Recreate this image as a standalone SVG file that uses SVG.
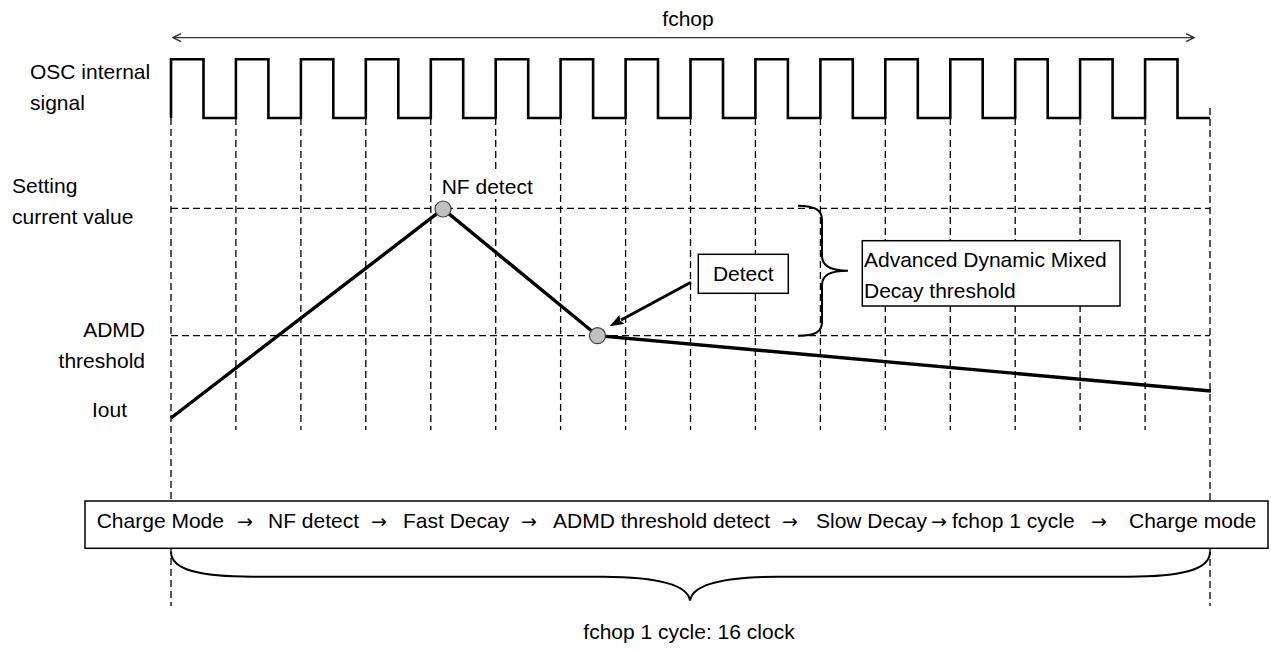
<svg xmlns="http://www.w3.org/2000/svg" width="1271" height="649" viewBox="0 0 1271 649">
<style>
.t{font-family:"Liberation Sans",Arial,sans-serif;font-size:21px;fill:#000}
.ar{font-family:"DejaVu Sans",sans-serif;font-size:19px}
.dash{stroke:#000;stroke-width:1.3;stroke-dasharray:7 4;fill:none}
.box{fill:#fff;stroke:#000;stroke-width:1.5}
.brace{fill:none;stroke:#000;stroke-width:2}
.dot{fill:#c0c0c0;stroke:#404040;stroke-width:1.2}
</style>
<defs>
<marker id="chev" viewBox="0 0 10 10" refX="9" refY="5" markerWidth="10" markerHeight="10" markerUnits="userSpaceOnUse" orient="auto-start-reverse">
<path d="M1,1 L9,5 L1,9" fill="none" stroke="#333" stroke-width="1.5"/>
</marker>
<marker id="head" viewBox="0 0 14 10" refX="1" refY="5" markerWidth="14" markerHeight="10" markerUnits="userSpaceOnUse" orient="auto">
<path d="M0,0 L14,5 L0,10 L2,5 z" fill="#000"/>
</marker>
</defs>
<rect width="1271" height="649" fill="#fff"/>

<g id="grid">
<path class="dash" d="M171,118V606 M235.9,118V430 M300.9,118V430 M365.8,118V430 M430.8,118V430 M495.7,118V430 M560.6,118V430 M625.6,118V430 M690.5,118V430 M755.4,118V430 M820.4,118V430 M885.3,118V430 M950.3,118V430 M1015.2,118V430 M1080.1,118V430 M1145.1,118V430 M1210,108V606"/>
<path class="dash" d="M171,208.3H1210 M171,335.7H1210"/>
</g>

<g id="fchop-span">
<line x1="173" y1="37.7" x2="1194" y2="37.7" stroke="#333" stroke-width="1.3" marker-start="url(#chev)" marker-end="url(#chev)"/>
<text class="t" x="688" y="26" text-anchor="middle">fchop</text>
</g>

<g id="osc-signal">
<text class="t" x="30" y="79">OSC internal</text>
<text class="t" x="30" y="110">signal</text>
<path d="M171,118 V59.3 H203.5 V118 H235.9 V59.3 H268.4 V118 H300.9 V59.3 H333.3 V118 H365.8 V59.3 H398.3 V118 H430.8 V59.3 H463.2 V118 H495.7 V59.3 H528.2 V118 H560.6 V59.3 H593.1 V118 H625.6 V59.3 H658 V118 H690.5 V59.3 H723 V118 H755.4 V59.3 H787.9 V118 H820.4 V59.3 H852.8 V118 H885.3 V59.3 H917.8 V118 H950.3 V59.3 H982.7 V118 H1015.2 V59.3 H1047.7 V118 H1080.1 V59.3 H1112.6 V118 H1145.1 V59.3 H1177.5 V118 H1210" fill="none" stroke="#000" stroke-width="2.6" stroke-linejoin="miter"/>
</g>

<g id="axis-labels">
<text class="t" x="12" y="193">Setting</text>
<text class="t" x="12" y="224">current value</text>
<text class="t" x="145" y="336.7" text-anchor="end">ADMD</text>
<text class="t" x="145" y="368" text-anchor="end">threshold</text>
<text class="t" x="92" y="416.7">Iout</text>
</g>

<g id="iout">
<polyline points="171,418 443,209 597.5,335.7 1211,391" fill="none" stroke="#000" stroke-width="3.4" stroke-linejoin="miter"/>
</g>

<g id="nf-detect">
<rect x="438" y="170" width="98" height="29" fill="#fff"/>
<text class="t" x="441.7" y="194">NF detect</text>
<circle class="dot" cx="443" cy="209" r="8"/>
</g>

<g id="admd-point">
<circle class="dot" cx="597.5" cy="335.7" r="8"/>
</g>

<g id="connectors">
<line x1="691" y1="282.3" x2="621" y2="320" stroke="#000" stroke-width="3" marker-end="url(#head)"/>
</g>

<g id="detect">
<rect class="box" x="698.3" y="254.3" width="90" height="39"/>
<text class="t" x="743.3" y="280.7" text-anchor="middle">Detect</text>
</g>

<g id="admd-brace">
<path class="brace" d="M798,205.7 C815,206 822,210 822,220 V256 C822,266 830,270.7 848,270.7 C830,270.7 822,275 822,285 V322 C822,332 815,335.7 798,335.7"/>
</g>

<g id="admd-label">
<rect class="box" x="862.3" y="240.7" width="257.7" height="65.3"/>
<text class="t" x="864" y="266.7">Advanced Dynamic Mixed</text>
<text class="t" x="864" y="298.3">Decay threshold</text>
</g>

<g id="sequence">
<rect class="box" x="85" y="501" width="1183" height="47.3"/>
<text class="t" y="528.3"><tspan x="96.7">Charge Mode</tspan><tspan class="ar" x="237">→</tspan><tspan x="268">NF detect</tspan><tspan class="ar" x="371">→</tspan><tspan x="403">Fast Decay</tspan><tspan class="ar" x="521">→</tspan><tspan x="553">ADMD threshold detect</tspan><tspan class="ar" x="782">→</tspan><tspan x="816">Slow Decay</tspan><tspan class="ar" x="931">→</tspan><tspan x="952">fchop 1 cycle</tspan><tspan class="ar" x="1091">→</tspan><tspan x="1129">Charge mode</tspan></text>
</g>

<g id="cycle-brace">
<path class="brace" d="M171,551.7 C171,570 200,576.7 253,576.7 H603 C660,577 688,585 690,600.7 C692,585 720,577 777,576.7 H1128 C1181,576.7 1210,570 1210,551.7"/>
<text class="t" x="689" y="639" text-anchor="middle">fchop 1 cycle: 16 clock</text>
</g>
</svg>
